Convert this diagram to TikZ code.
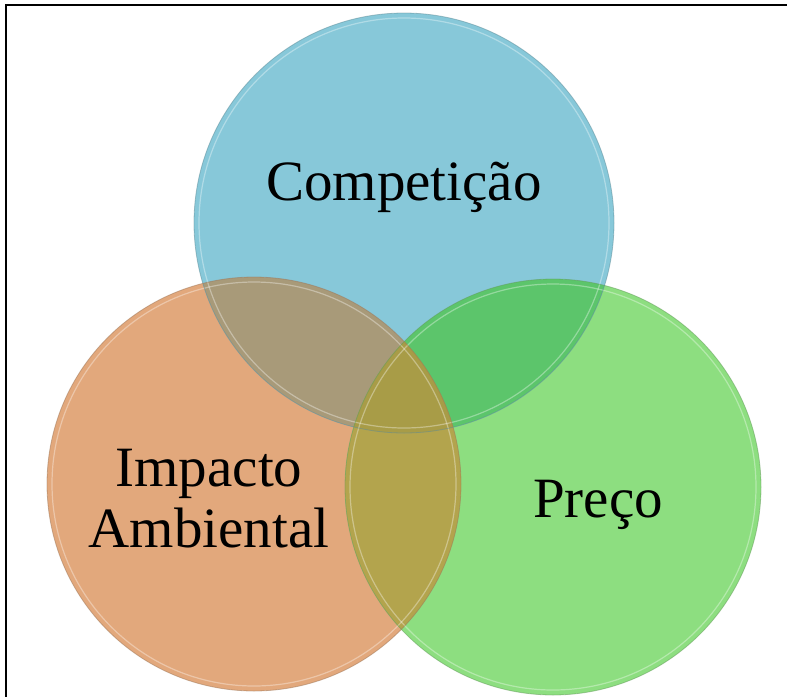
\documentclass[tikz,border=0pt]{standalone}
\usepackage{fontspec}
\setmainfont{Liberation Serif}
\definecolor{cblue}{HTML}{87C8D9}
\definecolor{corange}{HTML}{E2A87C}
\definecolor{cgreen}{HTML}{8DDE80}
\definecolor{cbo}{HTML}{A89A79}
\definecolor{cbg}{HTML}{5CC56B}
\definecolor{cog}{HTML}{B3A44D}
\definecolor{ctri}{HTML}{A89C47}
\tikzset{
  vlabel/.style={font=\fontsize{57}{61}\selectfont, align=center, text=black, inner sep=0pt},
  ring/.style={line width=1.2pt},
}
\begin{document}
\begin{tikzpicture}[x=1pt,y=-1pt]
\useasboundingbox (0,0) rectangle (787,697);
\fill[white] (0,0) rectangle (787,697);
\coordinate (cb) at (404,223);
\coordinate (co) at (254,484);
\coordinate (cg) at (553,487);
% base circles
\fill[corange] (co) circle (207pt);
\fill[cgreen] (cg) circle (208pt);
\fill[cblue] (cb) circle (210pt);
% pairwise overlaps
\begin{scope}
  \clip (cb) circle (210pt);
  \fill[cbo] (co) circle (207pt);
  \fill[cbg] (cg) circle (208pt);
\end{scope}
\begin{scope}
  \clip (co) circle (207pt);
  \fill[cog] (cg) circle (208pt);
  \clip (cg) circle (208pt);
  \fill[ctri] (cb) circle (210pt);
\end{scope}
% glossy rims
\draw[ring, white, opacity=0.35] (cb) circle (205pt);
\draw[ring, white, opacity=0.35] (co) circle (202pt);
\draw[ring, white, opacity=0.35] (cg) circle (203pt);
\draw[line width=0.8pt, color=cblue!70!black, opacity=0.5] (cb) circle (210pt);
\draw[line width=0.8pt, color=corange!70!black, opacity=0.5] (co) circle (207pt);
\draw[line width=0.8pt, color=cgreen!70!black, opacity=0.5] (cg) circle (208pt);
% labels
\node[vlabel, anchor=base] (tc) at (404,200) {Competição};
\node[vlabel, anchor=base] (tp) at (598,517) {Preço};
\node[vlabel, anchor=base] (ti) at (209,547) {Impacto\\Ambiental};
% frame
\coordinate (f1) at (787,5);
\coordinate (f2) at (6,5);
\coordinate (f3) at (6,697);
\draw[line width=2pt, black] (f1) -- (f2) -- (f3);
\end{tikzpicture}
\end{document}
